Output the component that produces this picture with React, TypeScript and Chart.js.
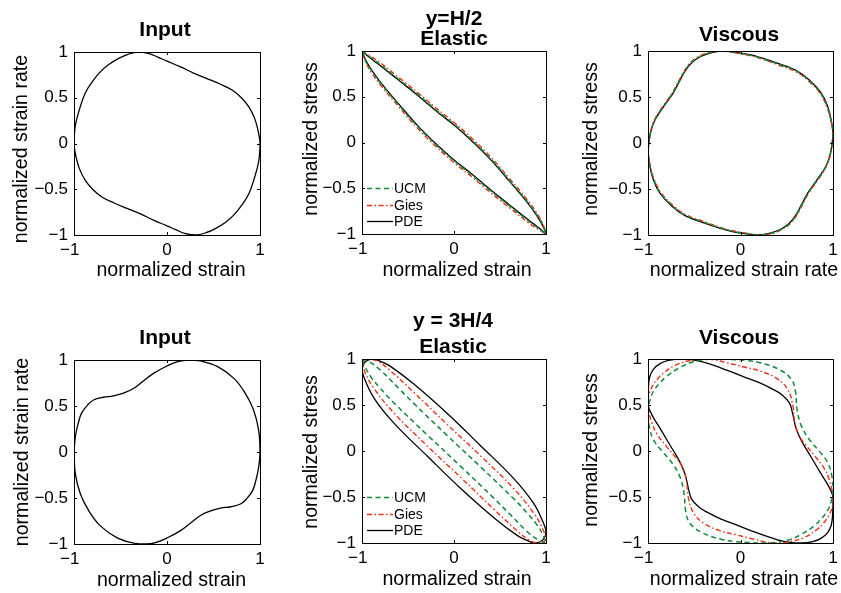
import React, { useEffect, useRef } from 'react';
import { Chart, registerables } from 'chart.js';

Chart.register(...registerables);

type Pt = [number, number];

const FONT = '"Liberation Sans", Arial, Helvetica, sans-serif';

// ---- tick values / labels ----
const xTickValues = [-1, 0, 1];
const xTickLabels = ['\u22121\u2002', '0', '1'];
const yTickValues = [-1, -0.5, 0, 0.5, 1];
const yTickLabels = ['\u22121', '\u22120.5', '0', '0.5', '1'];

// ---- series labels ----
const seriesNames = ['UCM', 'Gies', 'PDE'];

// ---- Panel 1: Input (y = H/2) strain vs strain rate ----
const inputTop: Pt[] = [
  [-1.0, 0.04], [-0.985, 0.2], [-0.945, 0.36], [-0.88, 0.55], [-0.8, 0.68], [-0.72, 0.78],
  [-0.63, 0.86], [-0.52, 0.93], [-0.42, 0.975], [-0.31, 1.0], [-0.2, 0.985], [-0.1, 0.945],
  [0.0, 0.9], [0.14, 0.84], [0.285, 0.77], [0.43, 0.71], [0.57, 0.65], [0.7, 0.585],
  [0.8, 0.5], [0.88, 0.4], [0.94, 0.28], [0.975, 0.16], [1.0, 0.02], [1.0, -0.04],
  [0.985, -0.2], [0.945, -0.36], [0.88, -0.55], [0.8, -0.68], [0.72, -0.78], [0.63, -0.86],
  [0.52, -0.93], [0.42, -0.975], [0.31, -1.0], [0.2, -0.985], [0.1, -0.945], [0.0, -0.9],
  [-0.14, -0.84], [-0.285, -0.77], [-0.43, -0.71], [-0.57, -0.65], [-0.7, -0.585], [-0.8, -0.5],
  [-0.88, -0.4], [-0.94, -0.28], [-0.975, -0.16], [-1.0, -0.02], [-1.0, 0.04],
];

// ---- Panel 2: Elastic (y = H/2) ----
const elasticTopUCM: Pt[] = [
  [-1, 1], [-0.95, 0.96], [-0.9, 0.925], [-0.8, 0.85], [-0.6, 0.69], [-0.4, 0.53], [-0.2, 0.36],
  [0, 0.2], [0.2, 0.02], [0.4, -0.18], [0.6, -0.41], [0.8, -0.65], [0.9, -0.79], [0.96, -0.89],
  [1, -1], [0.95, -0.96], [0.9, -0.925], [0.8, -0.85], [0.6, -0.69], [0.4, -0.53], [0.2, -0.36],
  [0, -0.2], [-0.2, -0.02], [-0.4, 0.18], [-0.6, 0.41], [-0.8, 0.65], [-0.9, 0.79], [-0.96, 0.89],
  [-1, 1],
];
const elasticTopGies: Pt[] = [
  [-1, 1], [-0.95, 0.97], [-0.9, 0.94], [-0.8, 0.87], [-0.6, 0.71], [-0.4, 0.55], [-0.2, 0.38],
  [0, 0.22], [0.2, 0.04], [0.4, -0.16], [0.6, -0.39], [0.8, -0.63], [0.9, -0.77], [0.96, -0.88],
  [1, -1], [0.95, -0.97], [0.9, -0.94], [0.8, -0.87], [0.6, -0.71], [0.4, -0.55], [0.2, -0.38],
  [0, -0.22], [-0.2, -0.04], [-0.4, 0.16], [-0.6, 0.39], [-0.8, 0.63], [-0.9, 0.77], [-0.96, 0.88],
  [-1, 1],
];
const elasticTopPDE: Pt[] = [
  [-1, 1], [-0.95, 0.955], [-0.9, 0.915], [-0.8, 0.84], [-0.6, 0.68], [-0.4, 0.52], [-0.2, 0.35],
  [0, 0.19], [0.2, 0.01], [0.4, -0.19], [0.6, -0.42], [0.8, -0.66], [0.9, -0.8], [0.96, -0.9],
  [1, -1], [0.95, -0.955], [0.9, -0.915], [0.8, -0.84], [0.6, -0.68], [0.4, -0.52], [0.2, -0.35],
  [0, -0.19], [-0.2, -0.01], [-0.4, 0.19], [-0.6, 0.42], [-0.8, 0.66], [-0.9, 0.8], [-0.96, 0.9],
  [-1, 1],
];

// ---- Panel 3: Viscous (y = H/2) ----
const viscousTopUCM: Pt[] = [
  [-1.0, -0.11], [-0.992, 0.0], [-0.972, 0.12], [-0.927, 0.25], [-0.84, 0.39], [-0.735, 0.54],
  [-0.665, 0.67], [-0.605, 0.78], [-0.535, 0.872], [-0.435, 0.942], [-0.305, 0.987], [-0.195, 1.0],
  [-0.055, 0.983], [0.1, 0.955], [0.21, 0.925], [0.42, 0.853], [0.6, 0.783], [0.745, 0.675],
  [0.868, 0.54], [0.94, 0.39], [0.978, 0.25], [1.0, 0.11], [0.992, 0.0], [0.972, -0.12],
  [0.927, -0.25], [0.84, -0.39], [0.735, -0.54], [0.665, -0.67], [0.605, -0.78], [0.535, -0.872],
  [0.435, -0.942], [0.305, -0.987], [0.195, -1.0], [0.055, -0.983], [-0.1, -0.955], [-0.21, -0.925],
  [-0.42, -0.853], [-0.6, -0.783], [-0.745, -0.675], [-0.868, -0.54], [-0.94, -0.39], [-0.978, -0.25],
  [-1.0, -0.11],
];
const viscousTopGies: Pt[] = [
  [-1.0, -0.12], [-0.995, 0.0], [-0.975, 0.12], [-0.93, 0.25], [-0.845, 0.39], [-0.74, 0.54],
  [-0.67, 0.67], [-0.61, 0.78], [-0.54, 0.875], [-0.44, 0.945], [-0.31, 0.99], [-0.2, 1.0],
  [-0.06, 0.98], [0.1, 0.95], [0.21, 0.92], [0.42, 0.845], [0.6, 0.775], [0.74, 0.67],
  [0.86, 0.54], [0.935, 0.39], [0.975, 0.25], [1.0, 0.12], [0.995, 0.0], [0.975, -0.12],
  [0.93, -0.25], [0.845, -0.39], [0.74, -0.54], [0.67, -0.67], [0.61, -0.78], [0.54, -0.875],
  [0.44, -0.945], [0.31, -0.99], [0.2, -1.0], [0.06, -0.98], [-0.1, -0.95], [-0.21, -0.92],
  [-0.42, -0.845], [-0.6, -0.775], [-0.74, -0.67], [-0.86, -0.54], [-0.935, -0.39], [-0.975, -0.25],
  [-1.0, -0.12],
];
const viscousTopPDE: Pt[] = [
  [-1.0, -0.1], [-0.99, 0.0], [-0.97, 0.12], [-0.925, 0.25], [-0.835, 0.39], [-0.73, 0.54],
  [-0.66, 0.67], [-0.6, 0.78], [-0.53, 0.87], [-0.43, 0.94], [-0.3, 0.985], [-0.19, 1.0],
  [-0.05, 0.985], [0.1, 0.96], [0.21, 0.93], [0.42, 0.86], [0.6, 0.79], [0.75, 0.68],
  [0.875, 0.54], [0.945, 0.39], [0.98, 0.25], [1.0, 0.1], [0.99, 0.0], [0.97, -0.12],
  [0.925, -0.25], [0.835, -0.39], [0.73, -0.54], [0.66, -0.67], [0.6, -0.78], [0.53, -0.87],
  [0.43, -0.94], [0.3, -0.985], [0.19, -1.0], [0.05, -0.985], [-0.1, -0.96], [-0.21, -0.93],
  [-0.42, -0.86], [-0.6, -0.79], [-0.75, -0.68], [-0.875, -0.54], [-0.945, -0.39], [-0.98, -0.25],
  [-1.0, -0.1],
];

// ---- Panel 4: Input (y = 3H/4) ----
const inputBottom: Pt[] = [
  [-1.0, 0.0], [-0.985, 0.17], [-0.955, 0.31], [-0.92, 0.42], [-0.855, 0.51], [-0.79, 0.565],
  [-0.685, 0.595], [-0.575, 0.61], [-0.47, 0.64], [-0.36, 0.69], [-0.25, 0.775], [-0.145, 0.855],
  [0.0, 0.935], [0.125, 0.985], [0.23, 1.0], [0.36, 0.99], [0.54, 0.93], [0.72, 0.8],
  [0.84, 0.64], [0.93, 0.46], [0.985, 0.24], [1.0, 0.0], [0.985, -0.17], [0.955, -0.31],
  [0.92, -0.42], [0.855, -0.51], [0.79, -0.565], [0.685, -0.595], [0.575, -0.61], [0.47, -0.64],
  [0.36, -0.69], [0.25, -0.775], [0.145, -0.855], [0.0, -0.935], [-0.125, -0.985], [-0.23, -1.0],
  [-0.36, -0.99], [-0.54, -0.93], [-0.72, -0.8], [-0.84, -0.64], [-0.93, -0.46], [-0.985, -0.24],
  [-1.0, 0.0],
];

// ---- Panel 5: Elastic (y = 3H/4) ----
const elasticBottomUCM: Pt[] = [
  [-1.0, 1.0], [-0.92, 0.97], [-0.8, 0.88], [-0.6, 0.68], [-0.44, 0.52], [-0.076, 0.17],
  [0.286, -0.17], [0.65, -0.52], [0.8, -0.68], [0.9, -0.8], [0.97, -0.92], [1.0, -1.0],
  [0.92, -0.97], [0.8, -0.88], [0.6, -0.68], [0.44, -0.52], [0.076, -0.17], [-0.286, 0.17],
  [-0.65, 0.52], [-0.8, 0.68], [-0.9, 0.8], [-0.97, 0.92], [-1.0, 1.0],
];
const elasticBottomGies: Pt[] = [
  [-1.0, 0.96], [-0.96, 0.995], [-0.9, 1.0], [-0.82, 0.97], [-0.7, 0.88], [-0.44, 0.64],
  [-0.076, 0.29], [0.286, -0.05], [0.65, -0.41], [0.87, -0.68], [0.96, -0.84], [1.0, -0.96],
  [0.96, -0.995], [0.9, -1.0], [0.82, -0.97], [0.7, -0.88], [0.44, -0.64], [0.076, -0.29],
  [-0.286, 0.05], [-0.65, 0.41], [-0.87, 0.68], [-0.96, 0.84], [-1.0, 0.96],
];
const elasticBottomPDE: Pt[] = [
  [-1.0, 0.88], [-0.98, 0.95], [-0.93, 0.99], [-0.87, 1.0], [-0.8, 0.975], [-0.69, 0.92],
  [-0.44, 0.73], [-0.076, 0.41], [0.286, 0.06], [0.65, -0.3], [0.866, -0.57], [0.975, -0.79],
  [1.0, -0.88], [0.98, -0.95], [0.93, -0.99], [0.87, -1.0], [0.8, -0.975], [0.69, -0.92],
  [0.44, -0.73], [0.076, -0.41], [-0.286, -0.06], [-0.65, 0.3], [-0.866, 0.57], [-0.975, 0.79],
  [-1.0, 0.88],
];

// ---- Panel 6: Viscous (y = 3H/4) ----
const viscousBottomUCM: Pt[] = [
  [-1.0, 0.42], [-0.98, 0.55], [-0.94, 0.65], [-0.88, 0.73], [-0.8, 0.81], [-0.65, 0.91],
  [-0.51, 0.97], [-0.37, 0.995], [-0.26, 1.0], [-0.1, 0.995], [0.05, 0.985], [0.21, 0.96],
  [0.42, 0.885], [0.55, 0.78], [0.595, 0.64], [0.61, 0.46], [0.655, 0.28], [0.74, 0.13],
  [0.85, 0.0], [0.94, -0.12], [0.985, -0.26], [1.0, -0.42], [0.98, -0.55], [0.94, -0.65],
  [0.88, -0.73], [0.8, -0.81], [0.65, -0.91], [0.51, -0.97], [0.37, -0.995], [0.26, -1.0],
  [0.1, -0.995], [-0.05, -0.985], [-0.21, -0.96], [-0.42, -0.885], [-0.55, -0.78], [-0.595, -0.64],
  [-0.61, -0.46], [-0.655, -0.28], [-0.74, -0.13], [-0.85, 0.0], [-0.94, 0.12], [-0.985, 0.26],
  [-1.0, 0.42],
];
const viscousBottomGies: Pt[] = [
  [-1.0, 0.55], [-0.985, 0.63], [-0.95, 0.71], [-0.9, 0.78], [-0.83, 0.85], [-0.69, 0.94],
  [-0.51, 0.99], [-0.4, 1.0], [-0.28, 0.99], [-0.15, 0.96], [0.05, 0.91], [0.21, 0.87],
  [0.39, 0.79], [0.51, 0.67], [0.565, 0.5], [0.585, 0.32], [0.63, 0.17], [0.71, 0.06],
  [0.8, -0.05], [0.9, -0.18], [0.96, -0.31], [0.99, -0.43], [1.0, -0.55], [0.985, -0.63],
  [0.95, -0.71], [0.9, -0.78], [0.83, -0.85], [0.69, -0.94], [0.51, -0.99], [0.4, -1.0],
  [0.28, -0.99], [0.15, -0.96], [-0.05, -0.91], [-0.21, -0.87], [-0.39, -0.79], [-0.51, -0.67],
  [-0.565, -0.5], [-0.585, -0.32], [-0.63, -0.17], [-0.71, -0.06], [-0.8, 0.05], [-0.9, 0.18],
  [-0.96, 0.31], [-0.99, 0.43], [-1.0, 0.55],
];
const viscousBottomPDE: Pt[] = [
  [-1.0, 0.5], [-0.995, 0.7], [-0.98, 0.81], [-0.94, 0.89], [-0.87, 0.95], [-0.78, 0.985],
  [-0.66, 1.0], [-0.55, 0.995], [-0.4, 0.965], [-0.15, 0.88], [0.05, 0.8], [0.21, 0.74],
  [0.35, 0.67], [0.45, 0.61], [0.53, 0.52], [0.565, 0.4], [0.6, 0.25], [0.66, 0.11],
  [0.76, -0.06], [0.86, -0.23], [0.94, -0.36], [0.985, -0.45], [1.0, -0.5], [0.995, -0.7],
  [0.98, -0.81], [0.94, -0.89], [0.87, -0.95], [0.78, -0.985], [0.66, -1.0], [0.55, -0.995],
  [0.4, -0.965], [0.15, -0.88], [-0.05, -0.8], [-0.21, -0.74], [-0.35, -0.67], [-0.45, -0.61],
  [-0.53, -0.52], [-0.565, -0.4], [-0.6, -0.25], [-0.66, -0.11], [-0.76, 0.06], [-0.86, 0.23],
  [-0.94, 0.36], [-0.985, 0.45], [-1.0, 0.5],
];

// ---- styles ----
const GREEN = 'rgb(20,135,60)';
const RED = 'rgb(238,48,20)';
const BLACK = '#000';
const styleUCM = { color: GREEN, width: 1.5, dash: [5, 3.5] };
const styleGies = { color: RED, width: 1.4, dash: [5, 2.5, 1.5, 2.5] };
const stylePDE = { color: BLACK, width: 1.3, dash: [] as number[] };

type Series = { label: string; points: Pt[]; style: { color: string; width: number; dash: number[] } };
type PanelSpec = {
  plot: [number, number, number, number]; // left, top, right, bottom (page px)
  title: string[];
  titleBase: number[];
  titleX: number;
  ylabel: string;
  ylabelX: number;
  ylabelY: number;
  xlabel: string;
  xlabelX: number;
  xlabelY: number;
  legend: boolean;
  series: Series[];
};

const modelSeries = (u: Pt[], g: Pt[], p: Pt[]): Series[] => [
  { label: seriesNames[0], points: u, style: styleUCM },
  { label: seriesNames[1], points: g, style: styleGies },
  { label: seriesNames[2], points: p, style: stylePDE },
];

const PANELS: PanelSpec[] = [
  {
    plot: [74, 52, 260, 235], title: ['Input'], titleBase: [36], titleX: 165,
    ylabel: 'normalized strain rate', ylabelX: 27, ylabelY: 149,
    xlabel: 'normalized strain', xlabelX: 171, xlabelY: 276, legend: false,
    series: [{ label: 'Input', points: inputTop, style: stylePDE }],
  },
  {
    plot: [362, 51, 546, 234], title: ['y=H/2', 'Elastic'], titleBase: [25, 45], titleX: 454,
    ylabel: 'normalized stress', ylabelX: 317, ylabelY: 139,
    xlabel: 'normalized strain', xlabelX: 457, xlabelY: 276, legend: true,
    series: modelSeries(elasticTopUCM, elasticTopGies, elasticTopPDE),
  },
  {
    plot: [648, 51, 833, 235], title: ['Viscous'], titleBase: [41], titleX: 739,
    ylabel: 'normalized stress', ylabelX: 597, ylabelY: 139,
    xlabel: 'normalized strain rate', xlabelX: 744, xlabelY: 276, legend: false,
    series: modelSeries(viscousTopUCM, viscousTopGies, viscousTopPDE),
  },
  {
    plot: [74, 360, 260, 544], title: ['Input'], titleBase: [344], titleX: 165,
    ylabel: 'normalized strain rate', ylabelX: 28, ylabelY: 452,
    xlabel: 'normalized strain', xlabelX: 171.5, xlabelY: 586, legend: false,
    series: [{ label: 'Input', points: inputBottom, style: stylePDE }],
  },
  {
    plot: [362, 359, 546, 543], title: ['y = 3H/4', 'Elastic'], titleBase: [327, 352.5], titleX: 453,
    ylabel: 'normalized stress', ylabelX: 317, ylabelY: 452,
    xlabel: 'normalized strain', xlabelX: 457, xlabelY: 585, legend: true,
    series: modelSeries(elasticBottomUCM, elasticBottomGies, elasticBottomPDE),
  },
  {
    plot: [648, 359, 833, 543], title: ['Viscous'], titleBase: [344], titleX: 739,
    ylabel: 'normalized stress', ylabelX: 597, ylabelY: 450,
    xlabel: 'normalized strain rate', xlabelX: 744, xlabelY: 585, legend: false,
    series: modelSeries(viscousBottomUCM, viscousBottomGies, viscousBottomPDE),
  },
];

const PAD_L = 74;
const PAD_T = 52;
const PAD_R = 10;
const PAD_B = 60;

function Panel({ spec }: { spec: PanelSpec }) {
  const ref = useRef<HTMLCanvasElement | null>(null);
  const [L, T, R, B] = spec.plot;
  const ox = L - PAD_L;
  const oy = T - PAD_T;
  const W = PAD_L + (R - L) + PAD_R;
  const H = PAD_T + (B - T) + PAD_B;

  useEffect(() => {
    if (!ref.current) return;
    const frame = {
      id: 'frame',
      afterDraw(chart: any) {
        const ctx = chart.ctx as CanvasRenderingContext2D;
        const a = chart.chartArea;
        const xs = chart.scales.x;
        const ys = chart.scales.y;
        ctx.save();
        // box
        ctx.strokeStyle = '#000';
        ctx.lineWidth = 1;
        ctx.strokeRect(Math.round(a.left) + 0.5, Math.round(a.top) + 0.5,
          Math.round(a.right - a.left) - 0.0, Math.round(a.bottom - a.top) - 0.0);
        // inside tick marks
        ctx.beginPath();
        yTickValues.forEach((v) => {
          const py = Math.round(ys.getPixelForValue(v)) + 0.5;
          ctx.moveTo(a.left, py); ctx.lineTo(a.left + 3, py);
          ctx.moveTo(a.right, py); ctx.lineTo(a.right - 3, py);
        });
        xTickValues.forEach((v) => {
          const px = Math.round(xs.getPixelForValue(v)) + 0.5;
          ctx.moveTo(px, a.top); ctx.lineTo(px, a.top + 3);
          ctx.moveTo(px, a.bottom); ctx.lineTo(px, a.bottom - 3);
        });
        ctx.stroke();
        // titles
        ctx.fillStyle = '#000';
        ctx.textAlign = 'center';
        ctx.textBaseline = 'alphabetic';
        ctx.font = `bold 21px ${FONT}`;
        spec.title.forEach((t, i) => ctx.fillText(t, spec.titleX - ox, spec.titleBase[i] - oy));
        // axis labels
        ctx.font = `19.6px ${FONT}`;
        ctx.fillText(spec.xlabel, spec.xlabelX - ox, spec.xlabelY - oy);
        ctx.save();
        ctx.translate(spec.ylabelX - ox, spec.ylabelY - oy);
        ctx.rotate(-Math.PI / 2);
        ctx.fillText(spec.ylabel, 0, 0);
        ctx.restore();
        // legend
        if (spec.legend) {
          const rows = [a.bottom - 46, a.bottom - 29.5, a.bottom - 13];
          ctx.font = `14px ${FONT}`;
          ctx.textAlign = 'left';
          ctx.textBaseline = 'middle';
          chart.data.datasets.forEach((ds: any, i: number) => {
            const y = Math.round(rows[i]) + 0.5;
            ctx.save();
            ctx.strokeStyle = ds.borderColor;
            ctx.lineWidth = ds.borderWidth;
            ctx.setLineDash(ds.borderDash || []);
            ctx.beginPath();
            ctx.moveTo(a.left + 5, y);
            ctx.lineTo(a.left + 31, y);
            ctx.stroke();
            ctx.restore();
            ctx.fillStyle = '#000';
            ctx.fillText(ds.label, a.left + 32, y + 0.5);
          });
        }
        ctx.restore();
      },
    };

    const chart = new Chart(ref.current, {
      type: 'scatter',
      data: {
        datasets: spec.series.map((s) => ({
          label: s.label,
          data: s.points.map(([x, y]) => ({ x, y })),
          showLine: true,
          borderColor: s.style.color,
          backgroundColor: s.style.color,
          borderWidth: s.style.width,
          borderDash: s.style.dash,
          pointRadius: 0,
          pointHoverRadius: 0,
          tension: 0.4,
          fill: false,
        })),
      },
      options: {
        animation: false,
        responsive: false,
        devicePixelRatio: 1,
        events: [],
        layout: { padding: { left: 0, top: PAD_T, right: PAD_R, bottom: 0 } },
        plugins: { legend: { display: false }, tooltip: { enabled: false }, title: { display: false } },
        scales: {
          x: {
            type: 'linear', min: -1, max: 1,
            grid: { display: false, drawTicks: false },
            border: { display: false },
            afterFit: (s: any) => { s.height = PAD_B; },
            afterBuildTicks: (s: any) => { s.ticks = xTickValues.map((v) => ({ value: v })); },
            ticks: {
              autoSkip: false, maxRotation: 0, minRotation: 0, padding: 5, color: '#000',
              font: { family: FONT, size: 17 },
              callback: (v: any) => xTickLabels[xTickValues.indexOf(Number(v))],
            },
          },
          y: {
            type: 'linear', min: -1, max: 1,
            grid: { display: false, drawTicks: false },
            border: { display: false },
            afterFit: (s: any) => { s.width = PAD_L; },
            afterBuildTicks: (s: any) => { s.ticks = yTickValues.map((v) => ({ value: v })); },
            ticks: {
              autoSkip: false, padding: 6, color: '#000',
              font: { family: FONT, size: 17 },
              callback: (v: any) => yTickLabels[yTickValues.indexOf(Number(v))],
            },
          },
        },
      } as any,
      plugins: [frame as any],
    });
    return () => chart.destroy();
  }, []);

  return (
    <canvas
      ref={ref}
      width={W}
      height={H}
      style={{ position: 'absolute', left: ox, top: oy, width: W, height: H }}
    />
  );
}

export default function App() {
  return (
    <div style={{ position: 'fixed', left: 0, top: 0, width: 841, height: 593, background: '#fff', overflow: 'hidden' }}>
      {PANELS.map((p, i) => <Panel key={i} spec={p} />)}
    </div>
  );
}
